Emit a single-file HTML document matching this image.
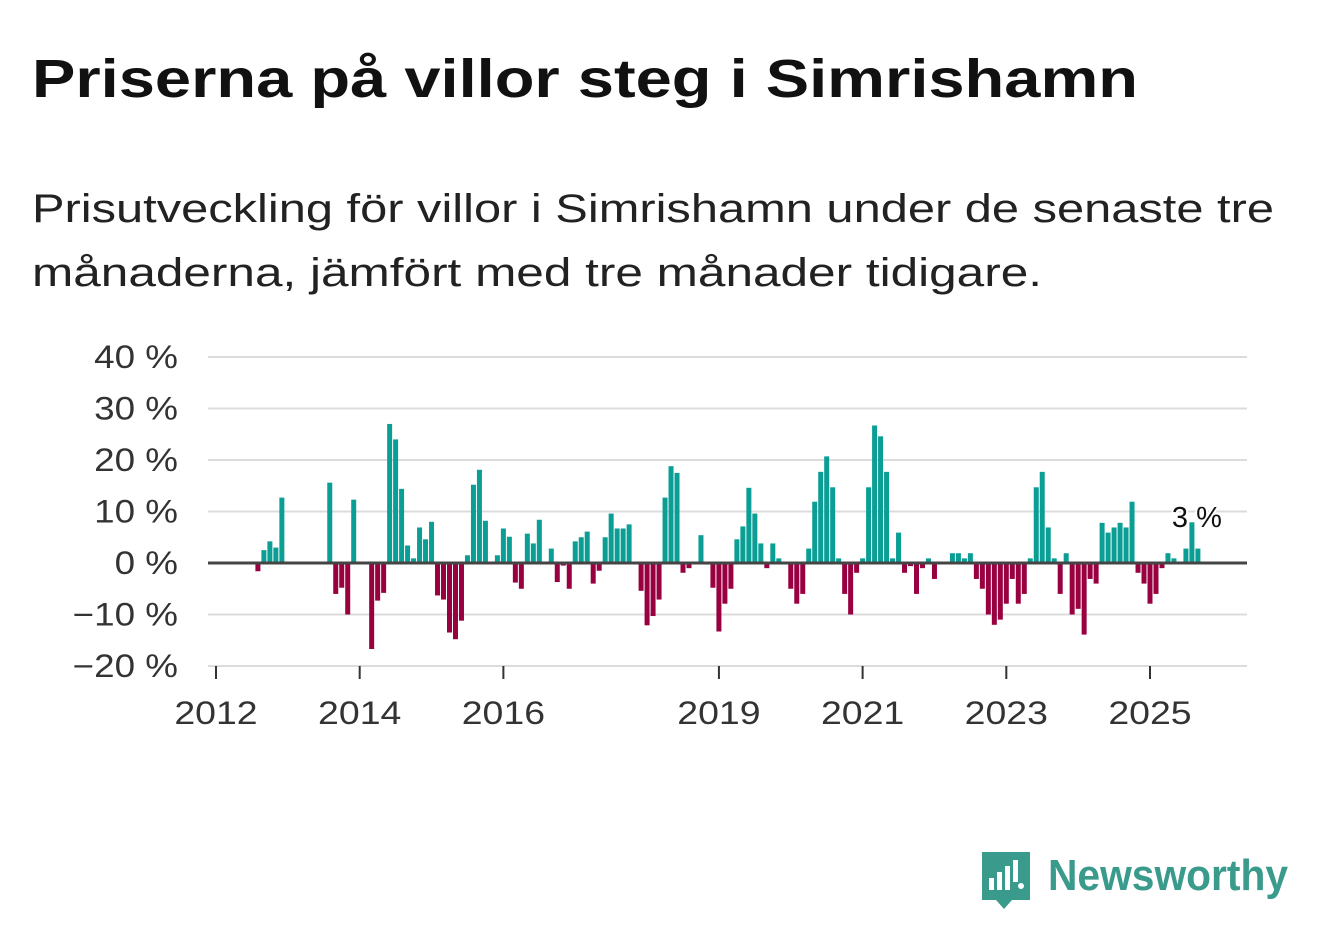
<!DOCTYPE html>
<html><head><meta charset="utf-8"><style>
html,body{margin:0;padding:0;background:#fff;}
svg{display:block;font-family:"Liberation Sans","DejaVu Sans",sans-serif;}
</style></head><body>
<svg id="chart" width="1322" height="939" viewBox="0 0 1322 939" xmlns="http://www.w3.org/2000/svg">
<text x="32" y="97" font-size="54" font-weight="bold" fill="#111" textLength="1106" lengthAdjust="spacingAndGlyphs">Priserna på villor steg i Simrishamn</text>
<text x="32" y="222" font-size="40" fill="#222" textLength="1242" lengthAdjust="spacingAndGlyphs">Prisutveckling för villor i Simrishamn under de senaste tre</text>
<text x="32" y="286" font-size="40" fill="#222" textLength="1010" lengthAdjust="spacingAndGlyphs">månaderna, jämfört med tre månader tidigare.</text>
<g id="grid"></g>
<g id="bars"></g>
<g id="axes"></g>
<g>
<path d="M982 852 h48 v48 h-18 l-8 9 l-8 -9 h-14 z" fill="#3a9a8c"/>
<rect x="989" y="878" width="5" height="12" fill="#fff"/><rect x="997" y="872" width="5" height="18" fill="#fff"/><rect x="1005" y="866" width="5" height="24" fill="#fff"/><rect x="1013" y="860" width="5" height="22" fill="#fff"/><circle cx="1021" cy="886" r="3" fill="#fff"/>
<text x="1048" y="890" font-size="44" font-weight="bold" fill="#3a9a8c" textLength="240" lengthAdjust="spacingAndGlyphs">Newsworthy</text>
</g>
</svg>
<script>
const startYear = 2012;
const startMonth = 7; // August (0-based)
const values = [-1.6,2.5,4.2,3,12.7,0,0,0,0,0,0,0,15.6,-6,-4.8,-10,12.3,0,0,-16.7,-7.3,-5.8,27,24,14.4,3.4,0.9,6.9,4.6,8,-6.3,-7.1,-13.5,-14.8,-11.2,1.5,15.2,18.1,8.2,0,1.5,6.7,5.1,-3.8,-5,5.7,3.8,8.4,0,2.8,-3.7,-0.5,-5,4.2,5,6.1,-4,-1.5,5,9.6,6.7,6.7,7.5,0,-5.4,-12.1,-10.3,-7.1,12.7,18.8,17.5,-1.9,-1,0,5.4,-0.3,-4.8,-13.3,-7.9,-5,4.6,7.1,14.6,9.6,3.8,-1,3.8,0.9,0,-5,-7.9,-6,2.8,11.9,17.7,20.7,14.7,0.9,-6,-10,-1.9,0.9,14.7,26.7,24.6,17.7,0.9,5.9,-1.9,-0.6,-6,-1,0.9,-3.1,0,0,1.9,1.9,0.9,1.9,-3.1,-5,-10,-12,-11,-7.9,-3.1,-7.9,-6,0.9,14.7,17.7,6.9,0.9,-6,1.9,-10,-8.9,-13.9,-3.1,-4,7.8,5.9,6.9,7.8,6.9,11.9,-1.9,-4,-7.9,-6,-1,1.9,0.9,0,2.8,7.9,2.8];
const yTicks = [40,30,20,10,0,-10,-20];
const yTickLabels = ["40 %","30 %","20 %","10 %","0 %","−10 %","−20 %"];
const xTickYears = [2012,2014,2016,2019,2021,2023,2025];
const lastLabel = "3 %";

const NS="http://www.w3.org/2000/svg";
const X0=216, PX_PER_MONTH=(1150-216)/(13*12);
function xScale(monthIndex){return X0+monthIndex*PX_PER_MONTH;}
function yScale(v){return 563 - v*5.15;}
function mk(tag,attrs,parent){const e=document.createElementNS(NS,tag);for(const k in attrs)e.setAttribute(k,attrs[k]);parent.appendChild(e);return e;}
function widen(t,f){const w=t.getComputedTextLength();t.setAttribute('textLength',w*f);t.setAttribute('lengthAdjust','spacingAndGlyphs');}
const grid=document.getElementById('grid'),bars=document.getElementById('bars'),axes=document.getElementById('axes');
yTicks.forEach((t,i)=>{
  if(t!==0){const l=mk('line',{x1:208,x2:1247,y1:yScale(t),y2:yScale(t),stroke:'#dcdcdc','stroke-width':2},grid);
  
  }
  const tx=mk('text',{x:178,y:yScale(t)+11,'font-size':32,fill:'#333','text-anchor':'end'},axes);
  tx.textContent=yTickLabels[i];
  
  
  widen(tx,1.15);
});
values.forEach((v,i)=>{
  const m=(startYear-2012)*12+startMonth+i;
  const cx=xScale(m);
  const y0=yScale(0), y1=yScale(v);
  const r=mk('rect',{x:cx-2.5,y:Math.min(y0,y1),width:5,height:Math.abs(y1-y0),fill:v>=0?'#0a9e95':'#98003f'},bars);
  
  
});
const zl=mk('line',{x1:208,x2:1247,y1:yScale(0),y2:yScale(0),stroke:'#444','stroke-width':3},axes);


xTickYears.forEach(yr=>{
  const x=xScale((yr-2012)*12);
  const tk=mk('line',{x1:x,x2:x,y1:666,y2:679,stroke:'#333','stroke-width':2},axes);
  
  
  const tx=mk('text',{x:x,y:724,'font-size':32,fill:'#333','text-anchor':'middle'},axes);
  tx.textContent=String(yr);
  
  
  widen(tx,1.17);
});
const lastM=(startYear-2012)*12+startMonth+values.length-2;
const lb=mk('text',{x:xScale(lastM)-20,y:527,'font-size':29,fill:'#111',stroke:'#fff','stroke-width':4,'paint-order':'stroke'},axes);
lb.textContent=lastLabel;


</script>
</body></html>
